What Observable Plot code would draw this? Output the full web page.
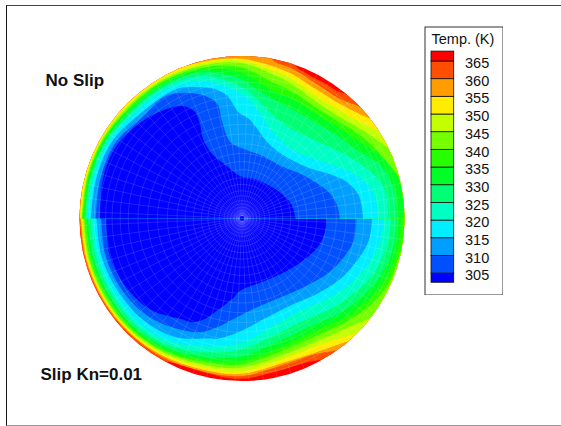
<!DOCTYPE html>
<html><head><meta charset="utf-8">
<script src="https://cdn.jsdelivr.net/npm/d3@7"></script>
<script src="https://cdn.jsdelivr.net/npm/@observablehq/plot@0.6"></script>
<style>
html,body{margin:0;padding:0;background:#fff;overflow:hidden}
#page{position:relative;width:561px;height:426px;overflow:hidden;font-family:"Liberation Sans",Arial,sans-serif}
#edge{position:absolute;left:6px;top:5px;right:-3px;bottom:0;border-left:1.5px solid #111;border-top:1.5px solid #444;border-bottom:1px solid #999}
#chart{position:absolute;left:0;top:0}
#legend{position:absolute;left:424px;top:26px}
svg{display:block}
</style></head><body>
<div id="page"><div id="edge"></div><div id="chart"></div><div id="legend"></div></div>
<script>
const levels=[305,310,315,320,325,330,335,340,345,350,355,360,365];
const ramp=["#0000ff","#0050ff","#009eff","#00eeff","#00ffc4","#00ff76","#00ff27","#27ff00","#76ff00","#c4ff00","#ffec00","#ff9d00","#ff4e00","#ff0000"];
const discRadius=162.5;
const legendEnds=[302.4,367.8];
const texts=[{t:"No Slip",x:-196.5,y:138},{t:"Slip Kn=0.01",x:-201.5,y:-156}];

// isotherms in the No Slip half (y>0), x,y in disc units
const top305=[[53.5,0],[50,13],[40,24.7],[27,33],[12,39.7],[-1.5,42.3],[-15,52.3],[-30,64.7],[-39,79.7],[-42,94.7],[-47.5,107.3],[-58,112.3],[-71.5,110.7],[-91.5,102.3],[-111.5,88],[-128,69],[-136.5,49.7],[-141,26.3],[-142,0]];
const top310=[[97.8,0],[95.2,13],[86.8,26.3],[73.5,36.3],[58.5,44.7],[41.8,51.3],[23.5,61.3],[3.5,69],[-11.5,76.3],[-19.8,96.3],[-24.8,114.7],[-38.2,123],[-58.2,125.7],[-78.2,121.3]];
const top315=[[121.2,0],[116.8,23],[105.2,36.3],[86.8,44.7],[65.2,51.3],[41.8,63],[25.2,76.3],[15.2,89.7],[6.8,99.7],[-1.5,104.7],[-5,108],[-15,123],[-28.2,129.7],[-44.8,131.3],[-64.8,129.7]];
const top320=[[136,0],[134.5,16.3],[126.8,33],[111.8,44.7],[91.8,53],[68.5,61],[52,68],[33.5,83],[18,105],[8,118],[-1.5,125]];
const top325=[[146.2,0],[145.2,19.7],[138.5,36.3],[125.2,49.7],[105,63],[95,68],[73.5,78],[48.5,90],[33.5,101],[12,122],[-1.5,132]];
const top330=[[154.5,0],[153.5,23],[146.8,41.3],[135,56.3],[118.5,66],[95,83],[73.5,96],[48.5,110],[33.5,118],[12,131],[-1.5,139.7]];
const top335=[[161.5,0],[160,26],[153.5,44.7],[140,61.3],[118.5,76],[95,92],[73.5,104.7],[48.5,120.7],[33.5,126.3],[-1.5,146.3]];
const top340=[[175,0],[175,20],[165,32],[157,42],[135,68],[118.5,83],[95,98],[73.5,111.3],[48.5,128],[33.5,134.7],[-1.5,151.3]];
const top345=[[175,0],[175,40],[160,61],[147,70],[118.5,89.7],[95,103],[73.5,117.3],[48.5,135.3],[33.5,143],[-1.5,155.7]];
const top350=[[175,0],[175,50],[152,78],[137,87],[118.5,96],[95,109.7],[73.5,123],[48.5,140.7],[33.5,147],[-1.5,158]];
const top355=[[175,0],[172,55],[142,92],[128,100],[118.5,104],[95,116.3],[73.5,129.7],[48.5,145.3],[33.5,151.3],[-1.5,159.7]];
const top360=[[175,0],[172,65],[128,106],[115,113],[104,117],[95,121.3],[73.5,135.3],[48.5,150.7],[31.8,157.5],[20,175],[-60,175],[-175,100],[-175,0]];
const top365=[[175,0],[172,70],[118,117],[105,124],[95,127.5],[85,134],[73.5,140],[62,146.5],[55,151],[44,165],[0,180],[-60,175],[-175,100],[-175,0]];
// radial position (fraction of the radius) of the same isotherms on the left rim
const topRimAngles=[105,120,135,150,165,180];
const top310Rim=[null,null,.875,.91,.905,.90];
const top315Rim=[null,null,.90,.93,.93,.93];
const top320Rim=[.877,.922,.925,.948,.948,.948];
const top325Rim=[.908,.938,.94,.958,.958,.958];
const top330Rim=[.932,.953,.953,.968,.968,.968];
const top335Rim=[.949,.965,.965,.976,.977,.977];
const top340Rim=[.961,.973,.973,.982,.983,.983];
const top345Rim=[.973,.982,.982,.988,.987,.987];
const top350Rim=[.984,.99,.99,.994,.992,.992];
const top355Rim=[.996,1.01,1.01,1.01,1.005,.997];

// isotherms in the Slip half (y<0)
const bot305=[[84.5,0],[83.5,-12],[76.8,-27],[63.5,-40.3],[41.8,-54],[18.5,-64],[-1.5,-72],[-8.2,-79],[-24.8,-92],[-38.2,-101],[-51.5,-103.7]];
const bot310=[[114.5,0],[111.8,-22],[101.8,-38.7],[85.2,-55.3],[61.8,-68.7],[35.2,-80.3],[11.8,-90.3],[-1.5,-97],[-11.5,-102],[-24.8,-108.7],[-41.5,-113.7]];
const bot315=[[130.5,0],[126.8,-22],[115.2,-42],[98.5,-60.3],[75.2,-75.3],[48.5,-87],[25.2,-98.7],[-1.5,-112.7],[-24.8,-120.3]];
const bot320=[[141.8,0],[138.5,-22],[126.8,-45.3],[108.5,-65.3],[85.2,-80.3],[58.5,-92],[31.8,-107],[-1.5,-124.7]];
const bot325=[[149.2,0],[145.2,-25.3],[133.5,-52],[115.2,-72],[91.8,-88.7],[65.2,-100.3],[35.2,-115.3],[-1.5,-131.3]];
const bot330=[[155.2,0],[151.2,-28.7],[138.5,-57],[120.2,-78],[96.8,-95.3],[70.2,-107],[38.5,-122],[-1.5,-138]];
const bot335=[[159.2,0],[155.2,-32],[142.5,-62],[124.5,-82.7],[100.2,-100.3],[73.5,-112],[41.8,-127],[-1.5,-142.7]];
const bot340=[[170,0],[165,-12],[157.8,-35.3],[145.8,-66],[127.8,-87],[103.5,-103.7],[76.8,-116],[45.2,-130.3],[-1.5,-146]];
const bot345=[[175,0],[175,-30],[145,-92],[130.5,-98.7],[106.8,-108.7],[80.2,-120.3],[48.5,-133.7],[-1.5,-149.3]];
const bot350=[[175,0],[175,-40],[135,-106],[117.8,-113.7],[101.8,-118.7],[81.8,-124.7],[48.5,-137.7],[-1.5,-152.7]];
const bot355=[[175,0],[175,-50],[122,-117],[105.8,-122.7],[88.5,-128.7],[48.5,-142],[-1.5,-155.3]];
const bot360=[[175,0],[175,-60],[110,-127],[93.5,-132],[71.8,-136],[41.8,-146],[-1.5,-157.7]];
const bot365=[[175,0],[175,-70],[95,-138],[78.5,-141.3],[61.8,-144.7],[35.2,-152.7],[-1.5,-160.3],[-38.2,-153.7],[-58.2,-147],[-71.5,-143.7],[-76.5,-142.7],[-92,-140],[-175,-60],[-175,0]];
const botRimAngles=[255,240,225,210,195,180];
const bot305Rim=[null,.72,.794,.83,.845,.836];
const bot310Rim=[null,.786,.837,.86,.87,.866];
const bot315Rim=[.765,.84,.873,.885,.895,.895];
const bot320Rim=[.815,.875,.906,.91,.915,.916];
const bot325Rim=[.85,.90,.926,.928,.93,.932];
const bot330Rim=[.88,.92,.943,.945,.947,.949];
const bot335Rim=[.90,.935,.955,.958,.96,.961];
const bot340Rim=[.915,.945,.963,.966,.968,.969];
const bot345Rim=[.93,.955,.971,.974,.976,.977];
const bot350Rim=[.945,.965,.978,.98,.982,.983];
const bot355Rim=[.96,.975,.985,.987,.989,.99];
const bot360Rim=[.972,.985,.991,.993,.995,.996];

// computational mesh
const meshRings=[.018,.035,.05,.07,.09,.11,.14,.17,.21,.25,.30,.35,.40,.46,.52,.58,.64,.70,.75,.80,.84,.88,.91,.94,.96];
const meshSpokes=d3.range(2.5,360,5);

const rad=d=>d*Math.PI/180;
const rows=[];
function add(id,level,pts,angles,rim){
  const t=level-1;
  for(const [x,y] of pts) rows.push({id,t,x,y});
  if(rim) rim.forEach((r,i)=>{ if(r!=null) rows.push({id,t,x:r*discRadius*Math.cos(rad(angles[i])),y:r*discRadius*Math.sin(rad(angles[i]))}); });
}
// painter's order: the hottest region first, colder regions on top
const far=[[175,0],[175,175],[-175,175],[-175,-175],[175,-175]];
add("base",370,far);
const topSets=[[365,top365],[360,top360],[355,top355,top355Rim],[350,top350,top350Rim],[345,top345,top345Rim],[340,top340,top340Rim],[335,top335,top335Rim],[330,top330,top330Rim],[325,top325,top325Rim],[320,top320,top320Rim],[315,top315,top315Rim],[310,top310,top310Rim],[305,top305]];
const botSets=[[365,bot365],[360,bot360,bot360Rim],[355,bot355,bot355Rim],[350,bot350,bot350Rim],[345,bot345,bot345Rim],[340,bot340,bot340Rim],[335,bot335,bot335Rim],[330,bot330,bot330Rim],[325,bot325,bot325Rim],[320,bot320,bot320Rim],[315,bot315,bot315Rim],[310,bot310,bot310Rim],[305,bot305,bot305Rim]];
for(const [l,p,r] of botSets) add("b"+l,l,p,botRimAngles,r);
for(const [l,p,r] of topSets) add("t"+l,l,p,topRimAngles,r);

const mesh=[];
for(const a of meshSpokes) for(const r of [meshRings[0],1]) mesh.push({id:"s"+a,x:r*discRadius*Math.cos(rad(a)),y:r*discRadius*Math.sin(rad(a))});
for(const r of meshRings) for(const a of d3.range(0,365,5)) mesh.push({id:"r"+r,x:r*discRadius*Math.cos(rad(a)),y:r*discRadius*Math.sin(rad(a))});

const colorScale={type:"threshold",domain:levels,range:ramp};
const chart=Plot.plot({
  width:561,height:426,margin:0,
  x:{domain:[-241.5,319.5],axis:null},
  y:{domain:[-208,218],axis:null},
  color:colorScale,
  marks:[
    Plot.line(rows,{x:"x",y:"y",z:"id",fill:"t",stroke:"none",curve:"catmull-rom"}),
    Plot.line(mesh,{x:"x",y:"y",z:"id",stroke:"#fff",strokeOpacity:.22,strokeWidth:.6}),
    Plot.text(texts,{x:"x",y:"y",text:"t",textAnchor:"start",fontSize:17,fontWeight:"bold",fill:"#111"})
  ],
  style:{background:"transparent",fontFamily:'"Liberation Sans",Arial,sans-serif'}
});
const sx=chart.scale("x"),sy=chart.scale("y");
const root=d3.select(chart);
root.append("defs").append("clipPath").attr("id","disc").append("circle")
  .attr("cx",sx.apply(0)).attr("cy",sy.apply(0)).attr("r",sx.apply(discRadius)-sx.apply(0));
root.selectAll('g[aria-label="line"]').attr("clip-path","url(#disc)");
document.getElementById("chart").append(chart);

// legend
const edges=[legendEnds[0],...levels,legendEnds[1]];
const bands=ramp.map((c,i)=>({lo:edges[i],hi:edges[i+1],mid:(edges[i]+edges[i+1])/2}));
const legendTitle="Temp. (K)";
const legend=Plot.plot({
  width:79,height:269,margin:0,
  x:{domain:[0,79],axis:null},
  y:{domain:[298.8,374.9],axis:null},
  color:colorScale,
  marks:[
    Plot.frame({fill:"#fff",stroke:"#333",inset:.5}),
    Plot.rect(bands,{x1:()=>7,x2:()=>29.7,y1:"lo",y2:"hi",fill:"mid",stroke:"#111",strokeWidth:.8}),
    Plot.text(levels,{x:()=>40.5,y:d=>d,text:d=>String(d),dy:2,textAnchor:"start",fontSize:14.5,fill:"#111"}),
    Plot.text([legendTitle],{x:()=>7,y:()=>371.4,text:d=>d,textAnchor:"start",fontSize:14.5,fill:"#111"})
  ],
  style:{background:"transparent",fontFamily:'"Liberation Sans",Arial,sans-serif'}
});
document.getElementById("legend").append(legend);
</script></body></html>
